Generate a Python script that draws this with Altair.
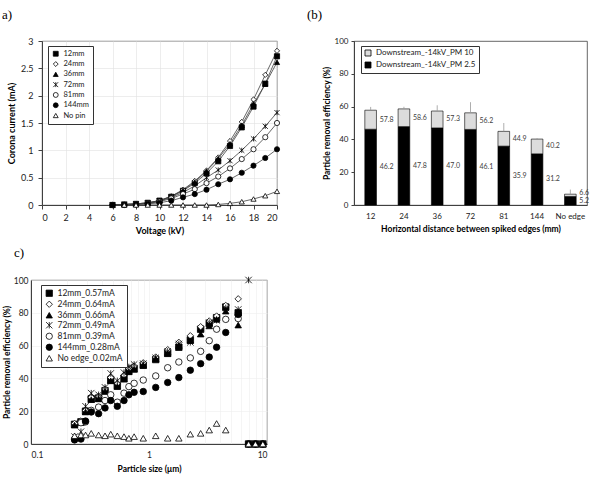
import altair as alt
import pandas as pd

FONT = "Lato"
SERIF = "Liberation Serif"
STAR = "M-1,-1L1,1M-1,1L1,-1M0,-1L0,1"

# ---------------- (a) corona current vs applied voltage ----------------
voltage_kv = [6, 7, 8, 9, 10, 11, 12, 13, 14, 15, 16, 17, 18, 19, 20]
pin_names = ["12mm", "24mm", "36mm", "72mm", "81mm", "144mm", "No pin"]
cur_12 = [0.00, 0.01, 0.02, 0.04, 0.08, 0.15, 0.26, 0.40, 0.58, 0.80, 1.08, 1.42, 1.80, 2.22, 2.72]
cur_24 = [0.00, 0.01, 0.02, 0.04, 0.08, 0.16, 0.28, 0.44, 0.63, 0.87, 1.17, 1.52, 1.93, 2.38, 2.82]
cur_36 = [0.00, 0.01, 0.02, 0.04, 0.08, 0.16, 0.27, 0.42, 0.62, 0.85, 1.12, 1.46, 1.85, 2.21, 2.61]
cur_72 = [0.00, 0.01, 0.02, 0.03, 0.07, 0.14, 0.23, 0.35, 0.50, 0.64, 0.81, 1.00, 1.21, 1.44, 1.69]
cur_81 = [0.00, 0.00, 0.01, 0.03, 0.06, 0.12, 0.20, 0.29, 0.40, 0.52, 0.67, 0.84, 1.02, 1.24, 1.50]
cur_144 = [0.00, 0.00, 0.01, 0.02, 0.04, 0.08, 0.14, 0.20, 0.28, 0.38, 0.47, 0.59, 0.72, 0.86, 1.02]
cur_nopin = [None, 0.00, 0.00, 0.00, 0.00, 0.00, 0.00, 0.00, 0.00, 0.01, 0.03, 0.06, 0.11, 0.17, 0.25]
pin_shapes = ["square", "diamond", "triangle-up", STAR, "circle", "circle", "triangle-up"]
pin_fills = ["black", "white", "black", "black", "white", "black", "white"]

# ---------------- (b) PM removal efficiency by edge spacing ----------------
distances = ["12", "24", "36", "72", "81", "144", "No edge"]
pm25_eff = [46.2, 47.8, 47.0, 46.1, 35.9, 31.2, 5.2]
pm10_eff = [57.8, 58.6, 57.3, 56.2, 44.9, 40.2, 6.6]
pm10_err = [2.0, 1.3, 3.5, 6.5, 5.1, 0.6, 2.8]
pm_names = ["Downstream_-14kV_PM 10", "Downstream_-14kV_PM 2.5"]

# ---------------- (c) size-resolved removal efficiency ----------------
sizes_um = [0.234, 0.265, 0.29, 0.324, 0.374, 0.424, 0.474, 0.539, 0.614, 0.675, 0.748, 0.894,
            1.14, 1.44, 1.79, 2.24, 2.74, 3.24, 3.74, 4.47, 5.70, 6.98, 7.98, 9.22]
edge_names = ["12mm_0.57mA", "24mm_0.64mA", "36mm_0.66mA", "72mm_0.49mA",
              "81mm_0.39mA", "144mm_0.28mA", "No edge_0.02mA"]
eff_12 = [12.0, 13.5, 20.0, 27.5, 28.0, 32.5, 39.0, 35.5, 40.0, 44.5, 46.0, 48.0,
          51.5, 55.5, 59.0, 63.5, 70.0, 73.5, 77.0, 83.5, 80.0, 0, 0, 0]
eff_24 = [12.5, 14.0, 20.5, 28.5, 29.0, 33.5, 40.5, 37.0, 42.0, 46.0, 47.5, 49.5,
          53.0, 57.5, 62.0, 66.0, 71.5, 75.0, 78.0, 84.5, 88.5, 0, 0, 0]
eff_36 = [11.5, 13.0, 19.5, 27.0, 27.5, 32.0, 38.5, 35.0, 39.5, 44.0, 45.5, 48.0,
          52.0, 55.0, 60.0, 63.0, 67.0, 72.0, 76.0, 81.0, 72.5, 0, 0, 0]
eff_72 = [4.5, 7.5, 23.0, 31.0, 30.0, 34.5, 43.0, 38.5, 43.5, 47.0, 48.5, 49.0,
          52.5, 56.5, 61.0, 62.0, 67.5, 74.0, 75.5, 83.0, 82.0, 100.0, 0, 0]
eff_81 = [3.0, 13.0, 13.5, 20.5, 22.5, 26.5, 30.0, 25.5, 31.0, 35.0, 37.0, 39.0,
          41.5, 46.5, 50.0, 52.5, 56.5, 63.0, 70.0, 76.0, 76.5, 0, 0, 0]
eff_144 = [2.5, 3.0, 14.0, 19.5, 18.5, 22.0, 26.5, 23.0, 26.5, 30.0, 31.5, 32.0,
           34.5, 37.5, 40.5, 45.0, 49.0, 53.0, 59.0, 68.0, 79.0, 0, 0, 0]
eff_noedge = [5.0, 5.5, 5.5, 6.5, 5.5, 5.0, 6.0, 5.0, 4.5, 3.5, 4.5, 3.5,
              5.0, 3.5, 3.5, 6.0, 6.5, 8.5, 12.5, 8.5, None, 0, 0, 0]
edge_shapes = ["square", "diamond", "triangle-up", STAR, "circle", "circle", "triangle-up"]
edge_fills = ["black", "white", "black", "black", "white", "black", "white"]
size_grid = [0.1, 0.2, 0.3, 0.4, 0.5, 0.6, 0.7, 0.8, 0.9, 1, 2, 3, 4, 5, 6, 7, 8, 9, 10]


def long_table(xs, names, columns, xname, yname):
    rows = []
    for name, col in zip(names, columns):
        for x, y in zip(xs, col):
            if y is not None:
                rows.append({xname: x, yname: y, "series": name})
    return pd.DataFrame(rows)


def panel_title(text, dx, offset):
    return alt.TitleParams(text, anchor="start", frame="group", dx=dx, offset=offset,
                           font=SERIF, fontSize=13, fontWeight="normal", color="black")


def marker_encodings(names, shapes, fills, legend):
    # shape, fill and stroke share one field so the legend merges into a single box
    return dict(
        shape=alt.Shape("series:N", scale=alt.Scale(domain=names, range=shapes), legend=legend),
        fill=alt.Fill("series:N", scale=alt.Scale(domain=names, range=fills), legend=legend),
        stroke=alt.Stroke("series:N", scale=alt.Scale(domain=names, range=["black"] * len(names)),
                          legend=legend),
    )


def spacer():
    # empty, frameless cell used to offset a row horizontally
    return alt.Chart(pd.DataFrame({"v": [0]})).mark_point(opacity=0, size=0).encode(
        x=alt.value(0), y=alt.value(0)).properties(
        width=1, height=1, view=alt.ViewBackground(strokeOpacity=0))


# ---- panel (a) ----
df_a = long_table(voltage_kv, pin_names,
                  [cur_12, cur_24, cur_36, cur_72, cur_81, cur_144, cur_nopin],
                  "voltage", "current")

xa = alt.X("voltage:Q", scale=alt.Scale(domain=[0, 20], nice=False),
           axis=alt.Axis(title="Voltage (kV)", values=list(range(0, 21, 2)),
                         labelFontSize=9, titleFontSize=9, tickSize=4, labelPadding=4,
                         titlePadding=4, grid=True))
ya = alt.Y("current:Q", scale=alt.Scale(domain=[0, 3], nice=False),
           axis=alt.Axis(title="Corona current (mA)", values=[0, 0.5, 1, 1.5, 2, 2.5, 3],
                         format="~g", labelFontSize=9, titleFontSize=9, tickSize=4,
                         labelPadding=5, titlePadding=4, grid=True))

legend_a = alt.Legend(title=None, orient="none", legendX=6, legendY=5,
                      strokeColor="#333333", fillColor="white", padding=4,
                      labelFontSize=7.5, labelFont=FONT, symbolSize=24, rowPadding=1.3,
                      symbolStrokeWidth=0.8)

lines_a = alt.Chart(df_a).mark_line(color="#404040", strokeWidth=0.8).encode(
    x=xa, y=ya, detail="series:N")
points_a = alt.Chart(df_a).mark_point(size=27, strokeWidth=0.8, opacity=1).encode(
    x=xa, y=ya, **marker_encodings(pin_names, pin_shapes, pin_fills, legend_a))
panel_a = alt.layer(lines_a, points_a).properties(
    width=235, height=164, title=panel_title("a)", -40, 15))

# ---- panel (b) ----
df_b = pd.DataFrame({"distance": distances, "pm25": pm25_eff, "pm10": pm10_eff, "err": pm10_err})

xb = alt.X("distance:N", sort=distances,
           scale=alt.Scale(paddingInner=0.65, paddingOuter=0.325),
           axis=alt.Axis(title="Horizontal distance between spiked edges (mm)", labelAngle=0,
                         labelFontSize=8, titleFontSize=8.5, tickSize=0, labelPadding=7,
                         titlePadding=4))


def yb(field):
    return alt.Y(field, scale=alt.Scale(domain=[0, 100], nice=False),
                 axis=alt.Axis(title="Particle removal efficiency (%)", values=list(range(0, 101, 20)),
                               labelFontSize=8, titleFontSize=8.5, tickSize=3, labelPadding=3,
                               titlePadding=3, grid=False))


fill_b = alt.Scale(domain=pm_names, range=["#dcdcdc", "black"])
legend_b = alt.Legend(title=None, orient="none", legendX=7, legendY=5,
                      strokeColor="#333333", fillColor="white", padding=3,
                      labelFontSize=8, labelFont=FONT, symbolType="square", symbolSize=36,
                      rowPadding=2, symbolStrokeColor="black", symbolStrokeWidth=0.8)
fill_enc = alt.Fill("component:N", scale=fill_b, legend=legend_b)

base_b = alt.Chart(df_b)
bars_pm25 = base_b.transform_calculate(component="'%s'" % pm_names[1]).mark_bar(
    stroke="black", strokeWidth=0.6).encode(x=xb, y=yb("pm25:Q"), fill=fill_enc)
bars_pm10 = base_b.transform_calculate(component="'%s'" % pm_names[0]).mark_bar(
    stroke="black", strokeWidth=0.6).encode(x=xb, y=yb("pm10:Q"), y2="pm25:Q", fill=fill_enc)
err_b = base_b.transform_calculate(top="datum.pm10 + datum.err").mark_rule(
    color="#999999", strokeWidth=0.8).encode(x=xb, y=yb("pm10:Q"), y2="top:Q")
# PM10 label sits mid-segment, kept clear of the PM2.5 label on short bars
lab_pm10 = base_b.transform_calculate(
    mid="max((datum.pm25 + datum.pm10) / 2, datum.pm25 / 2 + 4.5)").mark_text(
    align="left", baseline="middle", dx=9, fontSize=7, font=FONT, color="#404040").encode(
    x=xb, y=yb("mid:Q"), text=alt.Text("pm10:Q", format=".1f"))
lab_pm25 = base_b.transform_calculate(mid="datum.pm25 / 2").mark_text(
    align="left", baseline="middle", dx=9, fontSize=7, font=FONT, color="#404040").encode(
    x=xb, y=yb("mid:Q"), text=alt.Text("pm25:Q", format=".1f"))
panel_b = alt.layer(bars_pm25, bars_pm10, err_b, lab_pm10, lab_pm25).properties(
    width=233, height=164, title=panel_title("(b)", -47, 15))

# ---- panel (c) ----
df_c = long_table(sizes_um, edge_names,
                  [eff_12, eff_24, eff_36, eff_72, eff_81, eff_144, eff_noedge],
                  "size", "eff")
legend_c = alt.Legend(title=None, orient="none", legendX=10, legendY=5,
                      strokeColor="#333333", fillColor="white", padding=4,
                      labelFontSize=8.5, labelFont=FONT, symbolSize=40, rowPadding=0,
                      symbolStrokeWidth=0.8)
panel_c = alt.Chart(df_c).mark_point(size=42, strokeWidth=0.8, opacity=1).encode(
    x=alt.X("size:Q", scale=alt.Scale(type="log", domain=[0.1, 10], nice=False),
            axis=alt.Axis(title="Particle size (\u03bcm)", values=size_grid,
                          labelExpr="(datum.value == 0.1 || datum.value == 1 || datum.value == 10) ? format(datum.value, '~g') : ''",
                          labelFontSize=8.5, titleFontSize=8.5, tickSize=0, labelPadding=6,
                          titlePadding=6, grid=True, gridColor="#eeeeee")),
    y=alt.Y("eff:Q", scale=alt.Scale(domain=[0, 100], nice=False),
            axis=alt.Axis(title="Particle removal efficiency (%)", values=list(range(0, 101, 20)),
                          labelFontSize=8.5, titleFontSize=8.5, tickSize=0, labelPadding=3,
                          titlePadding=2, grid=True, gridColor="#eeeeee")),
    **marker_encodings(edge_names, edge_shapes, edge_fills, legend_c),
).properties(width=236, height=164, title=panel_title("c)", -17, 15))

ind = dict(shape="independent", fill="independent", stroke="independent")


def row(*charts, spacing):
    return alt.hconcat(*charts, spacing=spacing).resolve_scale(**ind).resolve_legend(**ind)


top_row = row(spacer(), row(panel_a, panel_b, spacing=24), spacing=0)
bottom_row = row(spacer(), panel_c, spacing=0)
chart = alt.vconcat(top_row, bottom_row, spacing=10).resolve_scale(
    **ind).resolve_legend(**ind).properties(
    padding={"left": 0, "top": 8, "right": 0, "bottom": 0}
).configure_axis(
    labelFont=FONT, titleFont=FONT, labelColor="#222222", titleColor="black",
    titleFontWeight="bold", domainColor="#404040", tickColor="#404040",
    gridColor="#e0e0e0", gridWidth=0.6,
).configure_view(stroke="#404040", strokeWidth=0.8).configure_legend(
    labelColor="#222222"
)

chart.save("out.html", embed_options={"renderer": "svg", "actions": False})
